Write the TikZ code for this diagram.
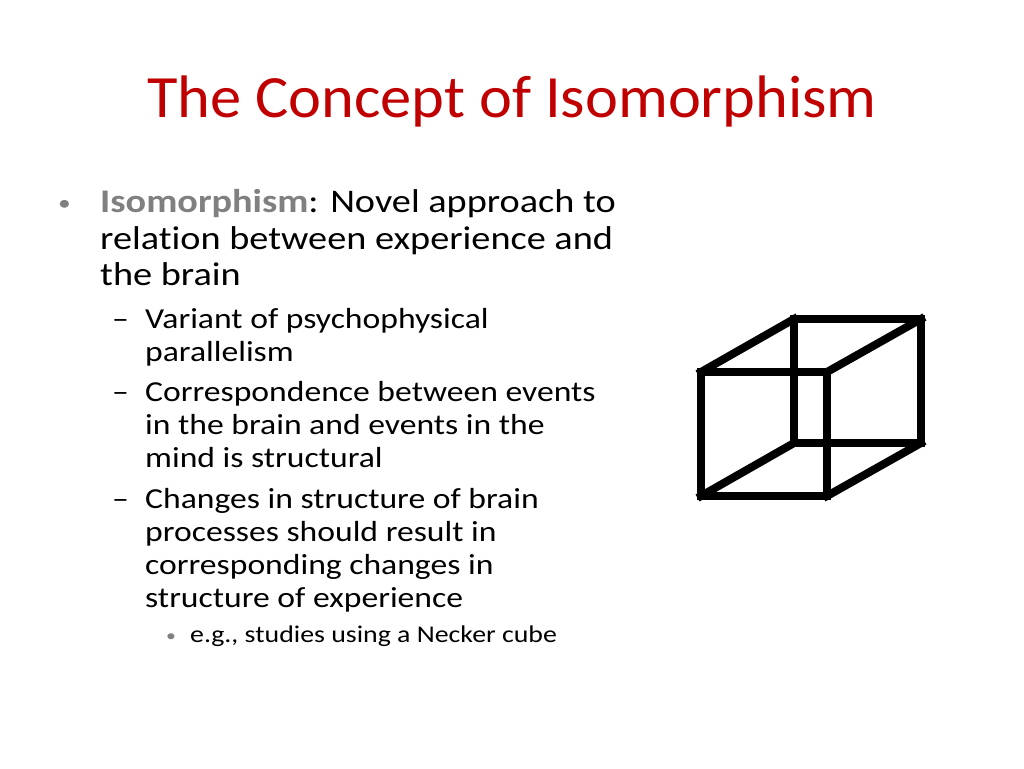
\documentclass[tikz,border=0pt]{standalone}
\usepackage{fontspec}
\setmainfont[Ligatures=NoCommon,FakeStretch=1.16]{Carlito}
\newfontfamily\ttlfont[Ligatures=NoCommon,FakeStretch=1.04]{Carlito}
\definecolor{ttl}{RGB}{192,0,0}
\definecolor{gr}{RGB}{128,128,128}
\begin{document}
\begin{tikzpicture}[x=1pt,y=-1pt,
  l1/.style={anchor=base west,inner sep=0,font=\fontsize{33}{36}\selectfont},
  l2/.style={anchor=base west,inner sep=0,font=\fontsize{29}{33}\selectfont},
  l3/.style={anchor=base west,inner sep=0,font=\fontsize{24}{28}\selectfont},
  bul/.style={anchor=base west,inner sep=0,text=gr,font=\fontsize{22}{26}\selectfont},
  cube/.style={line width=8pt,line cap=rect,line join=miter}]
\useasboundingbox (0,0) rectangle (1024,768);
\node[anchor=base,inner sep=0,text=ttl,font=\ttlfont\fontsize{60}{70}\selectfont] (title) at (512,117) {The Concept of Isomorphism};
\node[bul] (b1) at (58,210) {•};
\node[l1] (t1) at (100,212) {\textcolor{gr}{\textbf{Isomorphism}}: Novel approach to};
\node[l1] (t2) at (100,249) {relation between experience and};
\node[l1] (t3) at (100,285) {the brain};
\node[l2] (d1) at (112,328) {–};
\node[l2] (s1) at (145,328) {Variant of psychophysical};
\node[l2] (s2) at (145,361) {parallelism};
\node[l2] (d2) at (112,401) {–};
\node[l2] (s3) at (145,401) {Correspondence between events};
\node[l2] (s4) at (145,434) {in the brain and events in the};
\node[l2] (s5) at (145,467) {mind is structural};
\node[l2] (d3) at (112,508) {–};
\node[l2] (s6) at (145,508) {Changes in structure of brain};
\node[l2] (s7) at (145,541) {processes should result in};
\node[l2] (s8) at (145,574) {corresponding changes in};
\node[l2] (s9) at (145,607) {structure of experience};
\node[bul,font=\fontsize{17}{20}\selectfont] (b3) at (166,641) {•};
\node[l3] (e1) at (190,642) {e.g., studies using a Necker cube};
\draw[cube] (701,372) rectangle (827,496);
\draw[cube] (794,319) rectangle (921,443);
\draw[cube] (701,372) -- (794,319) (827,372) -- (921,319)
  (701,496) -- (794,443) (827,496) -- (921,443);
\end{tikzpicture}
\end{document}
